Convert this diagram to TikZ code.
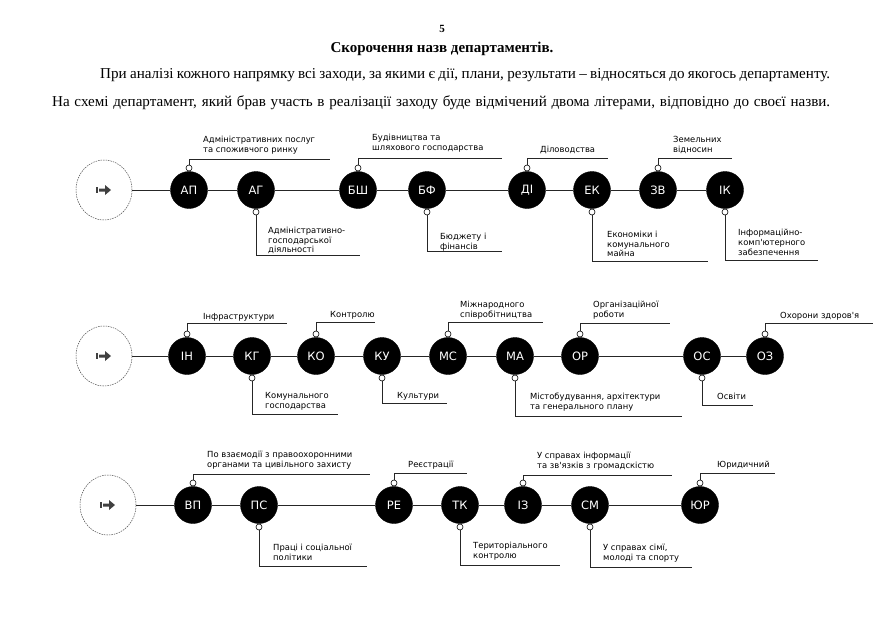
\documentclass[tikz,border=0pt]{standalone}
\usepackage{fontspec}
\setmainfont{Liberation Serif}
\newfontfamily\lblfont{DejaVu Sans}
\usetikzlibrary{shapes.geometric}
\tikzset{
  dep/.style={circle,fill=black,draw=black,minimum size=37pt,inner sep=0pt,text=white,font=\lblfont\fontsize{11.5}{12}\selectfont},
  pin/.style={circle,draw=black,fill=white,line width=0.6pt,minimum size=6pt,inner sep=0pt},
  lead/.style={draw=black!85,line width=0.6pt},
  rowline/.style={draw=black!85,line width=0.9pt},
  lbl/.style={font=\lblfont\fontsize{8.4}{9.7}\selectfont,align=left,anchor=west,inner sep=0pt},
  startc/.style={ellipse,draw=black!70,line width=0.5pt,dash pattern=on 1.5pt off 1pt,minimum width=56pt,minimum height=60pt,inner sep=0pt},
  para/.style={font=\fontsize{15.1}{17}\selectfont,anchor=west,inner sep=0pt},
  arrowicon/.style={fill=black!75}
}
\newcommand\depup[9]{%
  \node[dep] (#1) at (#2,#3) {#4};
  \node[pin,anchor=south] (#1-p) at (#1.north) {};
  \coordinate (#1-c) at (#2,#5);
  \coordinate (#1-e) at (#6,#5);
  \draw[lead] (#1-p) -- (#1-c) -- (#1-e);
  \node[lbl] (#1-t) at (#7,#8) {#9};
}
\newcommand\depdown[9]{%
  \node[dep] (#1) at (#2,#3) {#4};
  \node[pin,anchor=north] (#1-p) at (#1.south) {};
  \coordinate (#1-c) at (#2,#5);
  \coordinate (#1-e) at (#6,#5);
  \draw[lead] (#1-p) -- (#1-c) -- (#1-e);
  \node[lbl] (#1-t) at (#7,#8) {#9};
}
\newcommand\starticon[1]{%
  \fill[arrowicon] ([shift={(-5,-1.5)}]#1.center) -- ++(6,0) -- ++(0,-3.5) -- ++(6,5) -- ++(-6,5) -- ++(0,-3.5) -- ++(-6,0) -- cycle;
  \draw[black!75,line width=0.7pt] ([shift={(-8,-3)}]#1.center) -- ++(0,6);
  \draw[black!75,line width=0.7pt] ([shift={(-6.5,-3)}]#1.center) -- ++(0,6);
}
\begin{document}
\begin{tikzpicture}[x=1pt,y=-1pt]
\useasboundingbox (0,0) rectangle (886,634);
\fill[white] (0,0) rectangle (886,634);

% header
\node[font=\bfseries\fontsize{11}{12}\selectfont,inner sep=0pt] (pg) at (442,29) {5};
\node[font=\bfseries\fontsize{15}{16}\selectfont,inner sep=0pt] (ttl) at (442,49) {Скорочення назв департаментів.};
\node[para] (p1) at (100,75) {\makebox[730pt][s]{При аналізі кожного напрямку всі заходи, за якими є дії, плани, результати – відносяться до якогось департаменту.}};
\node[para] (p2) at (52,103) {\makebox[778pt][s]{На схемі департамент, який брав участь в реалізації заходу буде відмічений двома літерами, відповідно до своєї назви.}};

% row 1
\node[startc] (s1) at (104,190) {};
\starticon{s1}
\depup{ap}{189}{190}{АП}{159}{330}{203}{145.5}{Адміністративних послуг\\та споживчого ринку}
\depdown{ag}{256}{190}{АГ}{255}{360}{268}{240.5}{Адміністративно-\\господарської\\діяльності}
\depup{bsh}{358}{190}{БШ}{158}{502}{372}{143.5}{Будівництва та\\шляхового господарства}
\depdown{bf}{427}{190}{БФ}{251}{502}{440}{242.5}{Бюджету і\\фінансів}
\depup{di}{527}{190}{ДІ}{158}{608}{540}{150}{Діловодства}
\depdown{ek}{592}{190}{ЕК}{261}{708}{607}{244}{Економіки і\\комунального\\майна}
\depup{zv}{658}{190}{ЗВ}{158}{732}{673}{145}{Земельних\\відносин}
\depdown{ik}{725}{190}{ІК}{260}{818}{738}{242.5}{Інформаційно-\\комп'ютерного\\забезпечення}
\draw[rowline] (s1) -- (ap) -- (ag) -- (bsh) -- (bf) -- (di) -- (ek) -- (zv) -- (ik);

% row 2
\node[startc] (s2) at (104,356) {};
\starticon{s2}
\depup{inf}{187}{356}{ІН}{323}{287}{203}{317}{Інфраструктури}
\depdown{kg}{252}{356}{КГ}{414}{338}{265}{401.5}{Комунального\\господарства}
\depup{ko}{316}{356}{КО}{322}{375}{330}{315}{Контролю}
\depdown{ku}{382}{356}{КУ}{403}{447}{397}{396}{Культури}
\depup{ms}{448}{356}{МС}{322}{543}{460}{310}{Міжнародного\\співробітництва}
\depdown{ma}{515}{356}{МА}{416}{682}{530}{402}{Містобудування, архітектури\\та генерального плану}
\depup{or}{580}{356}{ОР}{323}{670}{593}{310}{Організаційної\\роботи}
\depdown{os}{702}{356}{ОС}{405}{753}{717}{396}{Освіти}
\depup{oz}{765}{356}{ОЗ}{323}{873}{780}{316}{Охорони здоров'я}
\draw[rowline] (s2) -- (inf) -- (kg) -- (ko) -- (ku) -- (ms) -- (ma) -- (or) -- (os) -- (oz);

% row 3
\node[startc] (s3) at (108,505) {};
\starticon{s3}
\depup{vp}{193}{505}{ВП}{474}{370}{207}{460}{По взаємодії з правоохоронними\\органами та цивільного захисту}
\depdown{ps}{259}{505}{ПС}{566}{367}{273}{552.5}{Праці і соціальної\\політики}
\depup{re}{394}{505}{РЕ}{473}{467}{408}{465}{Реєстрації}
\depdown{tk}{460}{505}{ТК}{565}{560}{473}{551.5}{Територіального\\контролю}
\depup{iz}{523}{505}{ІЗ}{475}{672}{537}{461}{У справах інформації\\та зв'язків з громадскістю}
\depdown{sm}{590}{505}{СМ}{567}{692}{603}{553.5}{У справах сімї,\\молоді та спорту}
\depup{yur}{700}{505}{ЮР}{473}{775}{717}{465}{Юридичний}
\draw[rowline] (s3) -- (vp) -- (ps) -- (re) -- (tk) -- (iz) -- (sm) -- (yur);
\end{tikzpicture}
\end{document}
